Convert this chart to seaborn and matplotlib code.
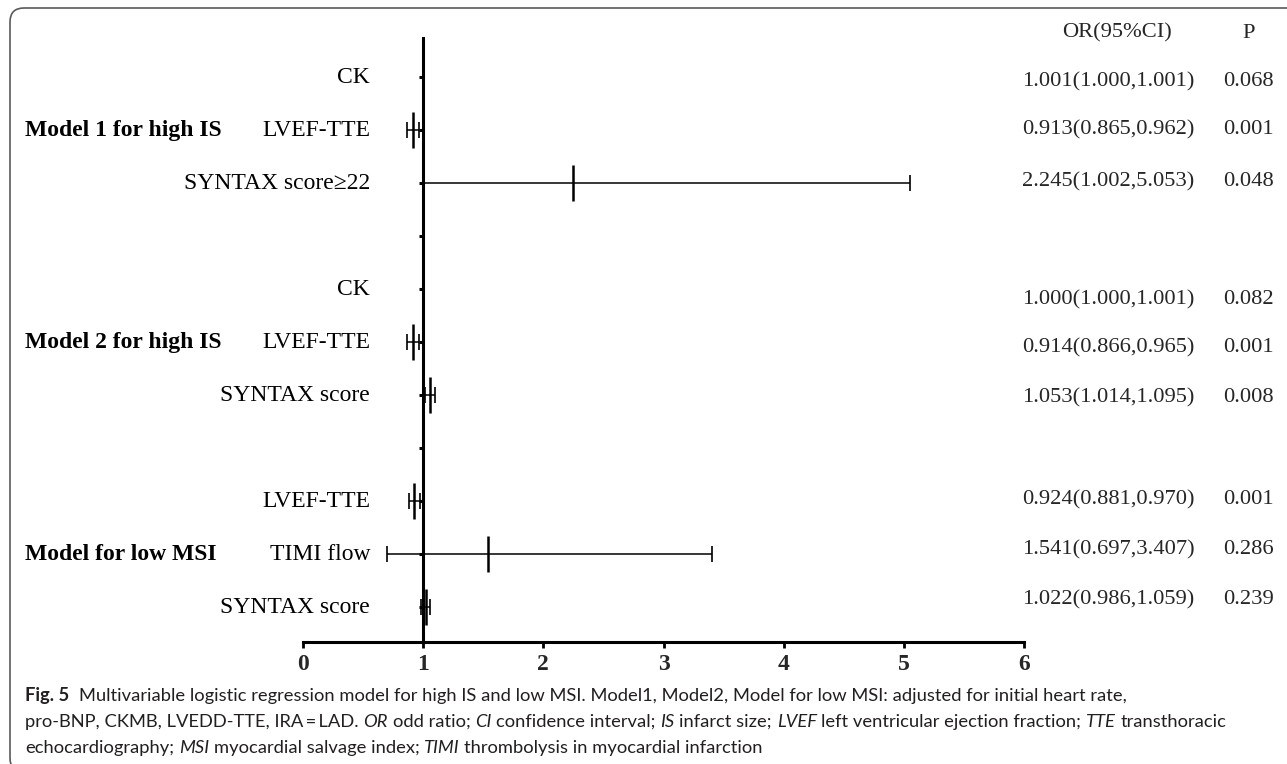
import numpy as np
import pandas as pd
import seaborn as sns
import matplotlib.pyplot as plt
from matplotlib.patches import FancyBboxPatch
from matplotlib.transforms import blended_transform_factory, IdentityTransform

# data
model_names = ["Model 1 for high IS", "Model 2 for high IS", "Model for low MSI"]
variables = [
    ["CK", "LVEF-TTE", "SYNTAX score\u226522"],
    ["CK", "LVEF-TTE", "SYNTAX score"],
    ["LVEF-TTE", "TIMI flow", "SYNTAX score"],
]
odds = [1.001, 0.913, 2.245, 1.000, 0.914, 1.053, 0.924, 1.541, 1.022]
lower = [1.000, 0.865, 1.002, 1.000, 0.866, 1.014, 0.881, 0.697, 0.986]
upper = [1.001, 0.962, 5.053, 1.001, 0.965, 1.095, 0.970, 3.407, 1.059]
p_values = ["0.068", "0.001", "0.048", "0.082", "0.001", "0.008", "0.001", "0.286", "0.239"]
x_ticks = [0, 1, 2, 3, 4, 5, 6]

caption_lines = [
    [("Fig. 5", "b"), ("  Multivariable logistic regression model for high IS and low MSI. Model1, Model2, "
                       "Model for low MSI: adjusted for initial heart rate,", "n")],
    [("pro-BNP, CKMB, LVEDD-TTE, IRA\u2009=\u2009LAD. ", "n"), ("OR", "i"), (" odd ratio; ", "n"),
     ("CI", "i"), (" confidence interval; ", "n"), ("IS", "i"), (" infarct size; ", "n"),
     ("LVEF", "i"), (" left ventricular ejection fraction; ", "n"), ("TTE", "i"), (" transthoracic", "n")],
    [("echocardiography; ", "n"), ("MSI", "i"), (" myocardial salvage index; ", "n"),
     ("TIMI", "i"), (" thrombolysis in myocardial infarction", "n")],
]

W, H = 1287, 764
SERIF = ["Liberation Serif", "DejaVu Serif"]
SANS = ["Lato", "DejaVu Sans"]

sns.set_theme(style="white")
plt.rcParams["font.family"] = SERIF

rows = []
for g, (model, names) in enumerate(zip(model_names, variables)):
    for i, name in enumerate(names):
        rows.append({"model": model, "variable": name, "pos": 11 - (4 * g + i)})
df = pd.DataFrame(rows)
df["odds"] = odds
df["lower"] = lower
df["upper"] = upper
df["p"] = p_values

fig = plt.figure(figsize=(W / 100, H / 100), dpi=100)
# axes placed in pixels: x 303..1024, y 38..642 (from top)
ax = fig.add_axes([303 / W, (H - 642) / H, 721 / W, 604 / H])
ax.set_xlim(0, 6)
ax.set_ylim(0.34, 11.74)

ax.errorbar(df["odds"], df["pos"],
            xerr=[df["odds"] - df["lower"], df["upper"] - df["odds"]],
            fmt="none", ecolor="black", elinewidth=1.1, capsize=6, capthick=1.2, zorder=2)
sns.scatterplot(data=df, x="odds", y="pos", marker="|", s=680, color="black",
                edgecolor="black", linewidth=1.8, legend=False, ax=ax, zorder=3)

for side in ["top", "right"]:
    ax.spines[side].set_visible(False)
ax.spines["left"].set_position(("data", 1))
ax.spines["left"].set_linewidth(2.2)
ax.spines["left"].set_color("black")
ax.spines["bottom"].set_linewidth(2.2)
ax.spines["bottom"].set_color("black")
ax.spines["bottom"].set_bounds(0, 6)

ax.set_yticks(range(1, 12))
ax.set_yticklabels([])
ax.tick_params(axis="y", direction="out", length=3, width=2.2, color="black", left=True)
ax.set_xticks(x_ticks)
ax.set_xticklabels([str(t) for t in x_ticks], fontweight="bold", fontsize=17)
ax.tick_params(axis="x", direction="out", length=4, width=2, color="black", pad=5, bottom=True)
ax.set_xlabel("")
ax.set_ylabel("")
ax.grid(False)

# row labels and model labels
lab_tr = blended_transform_factory(fig.transFigure, ax.transData)
for _, r in df.iterrows():
    ax.text(370 / W, r["pos"], r["variable"], transform=lab_tr, ha="right", va="center",
            fontsize=17, color="black", clip_on=False)
for model in model_names:
    mid = df[df["model"] == model]["pos"].iloc[1]
    ax.text(25 / W, mid, model, transform=lab_tr, ha="left", va="center",
            fontsize=17, fontweight="bold", color="black", clip_on=False)

# table on the right
table_y = [82, 130, 182, 300, 348, 398, 500, 550, 600]
fig.text(1117 / W, 1 - 33 / H, "OR(95%CI)", ha="center", va="center", fontsize=16.2, family=SERIF)
fig.text(1249 / W, 1 - 33 / H, "P", ha="center", va="center", fontsize=16.2, family=SERIF)
for y, o, lo, hi, p in zip(table_y, odds, lower, upper, p_values):
    fig.text(1022 / W, 1 - y / H, f"{o:.3f}({lo:.3f},{hi:.3f})", ha="left", va="center",
             fontsize=16.2, family=SERIF)
    fig.text(1223 / W, 1 - y / H, p, ha="left", va="center", fontsize=16.2, family=SERIF)

# caption, drawn run by run
renderer = fig.canvas.get_renderer()


def run_width(txt, style, size):
    t = fig.text(0, 0, txt, fontsize=size, family=SANS,
                 fontweight="bold" if style == "b" else "normal",
                 fontstyle="italic" if style == "i" else "normal")
    w = t.get_window_extent(renderer).width
    t.remove()
    return w


def draw_line(runs, x0, y, size, draw=True):
    space = run_width("x x", "n", size) - run_width("xx", "n", size)
    x = x0
    for txt, style in runs:
        lead = len(txt) - len(txt.lstrip(" "))
        trail = len(txt) - len(txt.rstrip(" "))
        core = txt.strip(" ")
        x += lead * space
        if draw:
            fig.text(x / W, 1 - y / H, core, fontsize=size, family=SANS, color="#231f20",
                     fontweight="bold" if style == "b" else "normal",
                     fontstyle="italic" if style == "i" else "normal", va="center", ha="left")
        x += run_width(core, style, size) + trail * space
    return x - x0


base = 11.0
cap_size = base * (1227 - 25) / draw_line(caption_lines[1], 25, 0, base, draw=False)
for line, y in zip(caption_lines, [696, 722, 748]):
    draw_line(line, 25, y, cap_size)

# rounded frame around the figure
frame = FancyBboxPatch((10, -8), 1320, H - 8 + 8, boxstyle="round,pad=0,rounding_size=14",
                       transform=IdentityTransform(), fill=False, edgecolor="#5a5a5a", linewidth=1.2)
fig.patches.append(frame)

fig.savefig("out.png", dpi=100)
